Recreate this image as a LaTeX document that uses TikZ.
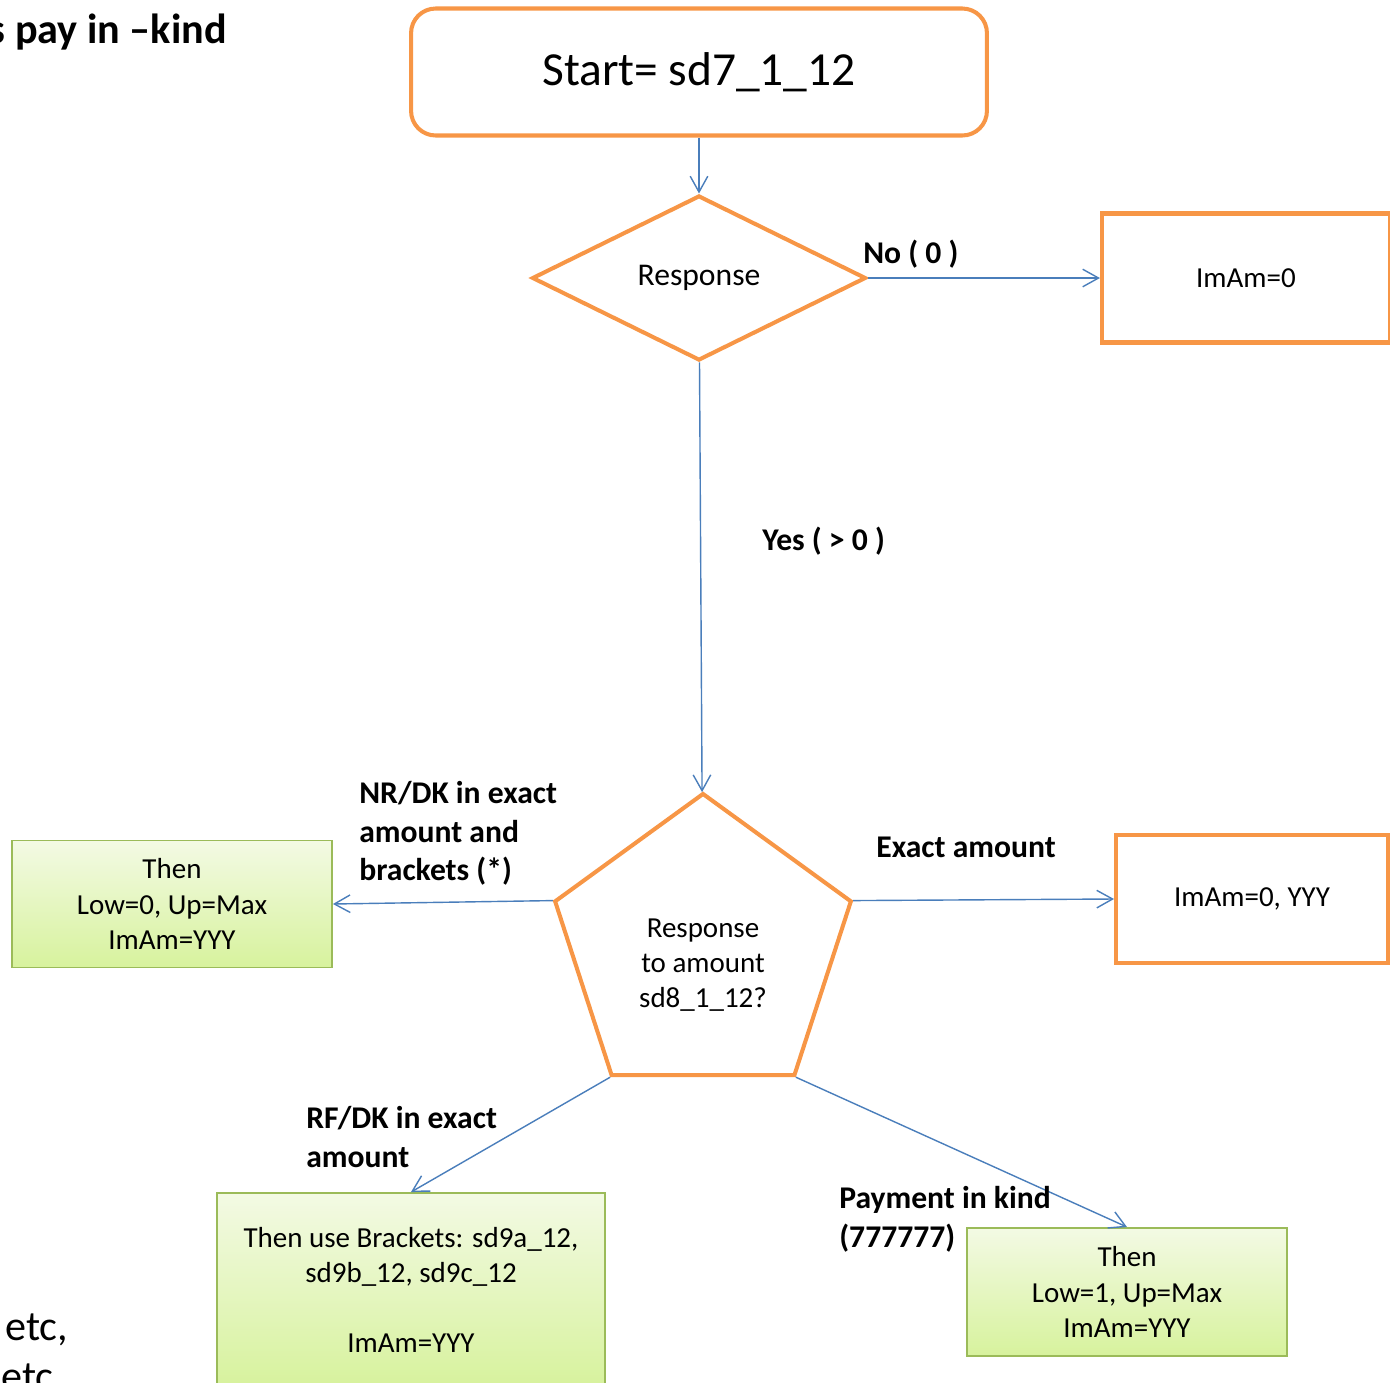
\documentclass[tikz,border=0pt]{standalone}
\usepackage{fontspec}
\setmainfont{Carlito}
\usetikzlibrary{arrows.meta, positioning, shapes.geometric}
\definecolor{boxorange}{HTML}{F79646}
\definecolor{lineblue}{HTML}{4A7EBB}
\definecolor{boxgreen}{HTML}{9BBB59}
\definecolor{greentop}{HTML}{F3FAE4}
\definecolor{greenbot}{HTML}{D7F29D}

\begin{document}
\begin{tikzpicture}[
  x=0.02cm, y=-0.02cm,
  obox/.style={draw=boxorange, line width=2.3pt, align=center, font=\fontsize{16.5}{20}\selectfont},
  gbox/.style={draw=boxgreen, line width=1.1pt, top color=greentop, bottom color=greenbot, align=center, font=\fontsize{16.5}{20}\selectfont},
  lbl/.style={font=\bfseries\fontsize{18}{22}\selectfont, align=left, inner sep=0pt},
  arrow/.style={-{Straight Barb[length=9pt, width=10pt]}, draw=lineblue, line width=0.8pt}
]
\useasboundingbox (0,0) rectangle (1390,1383);
\clip (0,0) rectangle (1390,1383);

\node[obox, rounded corners=14pt, minimum width=11.52cm, minimum height=2.54cm, font=\fontsize{27}{32}\selectfont] (start) at (699,72) {Start= sd7\_1\_12};
\node[obox, diamond, minimum width=6.68cm, minimum height=3.3cm, inner sep=0pt, font=\fontsize{18}{22}\selectfont, below=1.12cm of start] (resp) {Response};
\node[obox, minimum width=5.76cm, minimum height=2.58cm, right=4.64cm of resp] (imzero) {ImAm=0};
\node[obox, regular polygon, regular polygon sides=5, minimum size=6.22cm, inner sep=0pt, below=8.58cm of resp, xshift=0.08cm] (amount) {};
\node[font=\fontsize{16.5}{20}\selectfont, align=center] (amounttxt) at ([yshift=-0.32cm]amount.center) {Response\\to amount\\sd8\_1\_12?};
\node[obox, minimum width=5.44cm, minimum height=2.56cm] (imyyy) at (1252,899) {ImAm=0, YYY};

\node[gbox, minimum width=6.4cm, minimum height=2.54cm] (gleft) at (172,904) {Then\\Low=0, Up=Max\\ImAm=YYY};
\node[gbox, minimum width=7.76cm, minimum height=3.88cm] (gbrack) at (411,1290) {Then use Brackets: sd9a\_12,\\sd9b\_12, sd9c\_12\\[20pt]ImAm=YYY};
\node[gbox, minimum width=6.4cm, minimum height=2.56cm] (gkind) at (1127,1292) {Then\\Low=1, Up=Max\\ImAm=YYY};

\draw[arrow] (start) -- (resp);
\draw[arrow] (resp.east) -- (imzero);
\draw[arrow] (resp) -- (amount);
\draw[arrow] (amount.corner 2) -- (gleft.east);
\draw[arrow] (amount.corner 5) -- (imyyy.west);
\draw[arrow] (amount.corner 3) -- (gbrack.north);
\draw[arrow] (amount.corner 4) -- (gkind.north);

% branch labels
\node[lbl, anchor=west] (nolbl) at (863,254) {No ( 0 )};
\node[lbl, anchor=west] (yeslbl) at (762,541) {Yes ( > 0 )};
\node[lbl, anchor=north west] (nrlbl) at (359,781) {NR/DK in exact\\amount and\\brackets (*)};
\node[lbl, anchor=west] (exactlbl) at (876,847) {Exact amount};
\node[lbl, anchor=north west] (rflbl) at (306,1106) {RF/DK in exact\\amount};
\node[lbl, anchor=north west] (paylbl) at (839,1186) {Payment in kind\\(777777)};

\node[font=\bfseries\fontsize{24}{28}\selectfont, anchor=base east, inner sep=0pt] (title) at (227,43) {s pay in –kind};
\node[font=\fontsize{24}{28}\selectfont, anchor=base west, inner sep=0pt] (etcone) at (5,1340) {etc,};
\node[font=\fontsize{24}{28}\selectfont, anchor=base west, inner sep=0pt] (etctwo) at (1,1390) {etc};
\end{tikzpicture}
\end{document}
